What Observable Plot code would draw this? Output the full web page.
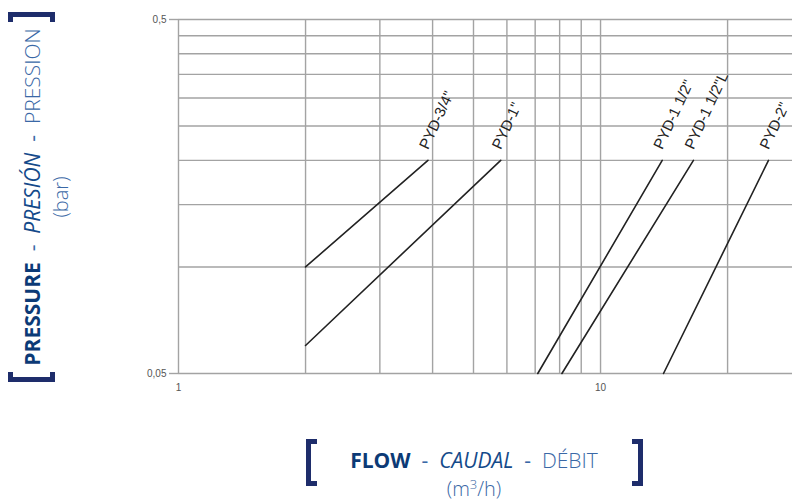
<!DOCTYPE html>
<html>
<head>
<meta charset="utf-8">
<script src="https://cdn.jsdelivr.net/npm/d3@7"></script>
<script src="https://cdn.jsdelivr.net/npm/@observablehq/plot@0.6"></script>
<style>
  html, body { margin: 0; padding: 0; background: #fff; }
  #wrap { position: relative; width: 792px; height: 501px; overflow: hidden; font-family: "Open Sans", sans-serif; }
  #chart svg { display: block; }
  .bold { font-weight: 700; color: #0c3a76; }
  .ital { font-style: italic; color: #144a8a; }
  .light { font-weight: 300; color: #3a68a6; }
  .dash { color: #3a68a6; }
  #xtitle { position: absolute; left: 274px; width: 400px; top: 445.85px; text-align: center; font-size: 21px; line-height: 28px; white-space: pre; }
  #ytitle { position: absolute; left: 45.85px; top: 197px; width: 440px; text-align: center; font-size: 21px; line-height: 28px; white-space: pre; transform: translate(-50%, -50%) rotate(-90deg); transform-origin: 50% 50%; }
  .unit { color: #3a68a6; font-weight: 300; font-size: 20px; }
  .unit sup { font-size: 13px; line-height: 0; vertical-align: 7px; }
  .brk { position: absolute; box-sizing: border-box; border: 5px solid #1e2d6b; }
</style>
</head>
<body>
<div id="wrap">
  <div id="chart"></div>
  <div id="ytitle"><span class="bold">PRESSURE</span><span class="dash">  -  </span><span class="ital">PRESIÓN</span><span class="dash">  -  </span><span class="light">PRESSION</span><br><span class="unit">(bar)</span></div>
  <div id="xtitle"><span class="bold">FLOW</span><span class="dash">  -  </span><span class="ital">CAUDAL</span><span class="dash">  -  </span><span class="light">DÉBIT</span><br><span class="unit">(m<sup>3</sup>/h)</span></div>
  <div class="brk" style="left:8px; top:12px; width:47px; height:10px; border-bottom:none;"></div>
  <div class="brk" style="left:8px; top:372px; width:47px; height:10px; border-top:none;"></div>
  <div class="brk" style="left:306px; top:439px; width:11px; height:47px; border-right:none;"></div>
  <div class="brk" style="left:632px; top:439px; width:11px; height:47px; border-left:none;"></div>
</div>
<script>
const series = ['PYD-3/4"', 'PYD-1"', 'PYD-1 1/2"', 'PYD-1 1/2"L', 'PYD-2"'];
const flowStart = [2, 2, 7.1, 8.1, 14.1];
const pressureStart = [0.1, 0.06, 0.05, 0.05, 0.05];
const flowEnd = [3.9, 5.8, 14.0, 16.6, 25.0];
const pressureEnd = [0.2, 0.2, 0.2, 0.2, 0.2];
const xGrid = [1, 2, 3, 4, 5, 6, 7, 8, 9, 10, 20];
const yGrid = [0.05, 0.1, 0.15, 0.2, 0.25, 0.3, 0.35, 0.4, 0.45, 0.5];
const xTicks = [1, 10];
const yTicks = [0.05, 0.5];
const xDomain = [1, 28.5];
const yDomain = [0.05, 0.5];

const rows = [];
series.forEach((s, i) => {
  rows.push({name: s, flow: flowStart[i], pressure: pressureStart[i]});
  rows.push({name: s, flow: flowEnd[i], pressure: pressureEnd[i]});
});
const ends = series.map((s, i) => ({name: s, flow: flowEnd[i], pressure: pressureEnd[i]}));
const fmt = d => String(d).replace(".", ",");
const grid = "#a3a3a3";

const plot = Plot.plot({
  width: 792,
  height: 400,
  marginLeft: 178,
  marginRight: 0,
  marginTop: 19,
  marginBottom: 27,
  style: {background: "transparent", fontFamily: "'Liberation Sans', Arial, sans-serif"},
  x: {type: "log", domain: xDomain},
  y: {type: "log", domain: yDomain},
  marks: [
    Plot.ruleX(xGrid, {stroke: grid, strokeWidth: 1.4}),
    Plot.ruleY(yGrid, {stroke: grid, strokeWidth: 1.4}),
    Plot.axisY(yTicks, {tickSize: 9, tickPadding: 3, tickFormat: fmt, stroke: grid, strokeWidth: 1.4, fill: "#555", fontSize: 10, label: null}),
    Plot.axisX(xTicks, {tickSize: 0, tickPadding: 10, tickFormat: fmt, fill: "#555", fontSize: 10, label: null}),
    Plot.line(rows, {x: "flow", y: "pressure", z: "name", stroke: "#222", strokeWidth: 1.6}),
    Plot.text(ends, {x: "flow", y: "pressure", text: "name", rotate: -65, textAnchor: "start", lineAnchor: "bottom", dy: -10, fontSize: 15, fill: "#222", fontFamily: "'Liberation Sans', Arial, sans-serif"})
  ]
});
document.getElementById("chart").appendChild(plot);
</script>
</body>
</html>
